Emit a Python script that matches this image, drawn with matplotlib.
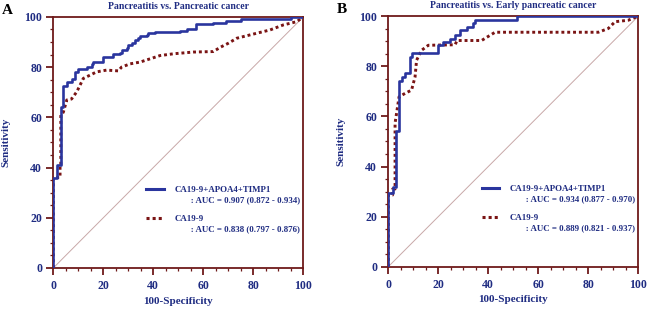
import matplotlib
matplotlib.use('Agg')
import matplotlib.pyplot as plt
from matplotlib.lines import Line2D
from matplotlib.ticker import MultipleLocator

plt.rcParams['font.family'] = ['Liberation Serif', 'DejaVu Serif']
plt.rcParams['font.weight'] = 'bold'

# Panel A: pancreatitis vs. pancreatic cancer
a_combo_x = [0, 0, 1.5, 3, 4, 5.3, 7.3, 8.7, 10, 12, 13.3, 15.3, 16, 20, 24, 26.7, 27.3,
             29.3, 30, 31.3, 32.7, 34, 34.7, 37.3, 38, 40.7, 50.7, 53.3, 57, 64, 69, 75,
             95, 100]
a_combo_y = [0, 36, 41, 64, 72.5, 74.2, 75.2, 78.2, 79.2, 79.4, 80.2, 81.1, 82, 84.2,
             85.1, 85.5, 86.9, 87.6, 88.9, 89.6, 90.9, 91.5, 92.2, 92.8, 93.5, 93.8,
             94.5, 95.3, 97, 97.5, 98.5, 99, 100, 100]
a_ca199_x = [0, 0, 2.7, 2.7, 3, 3, 4, 5.4, 7.3, 9.4, 10.7, 12, 14.7, 17.3, 21.3, 26, 27.3,
             30.7, 34.7, 38.7, 42.7, 48, 56, 64, 67, 70, 73.4, 81.4, 86.7, 92, 97.4, 100]
a_ca199_y = [0, 36, 36, 41, 41, 61, 62, 66.9, 67.3, 70.2, 72.8, 75.5, 76.8, 78.1, 78.8,
             78.5, 80, 81.3, 82, 83.3, 84.6, 85.3, 86, 86.2, 88, 89.5, 91.5, 93.5, 94.8,
             96.8, 98.1, 100]

# Panel B: pancreatitis vs. early pancreatic cancer
b_combo_x = [0, 0, 1.7, 3.1, 4.3, 5.3, 6.7, 8.7, 9.3, 20, 22, 24.7, 26.7, 28.7, 31.3, 34,
             34.7, 51.3, 100]
b_combo_y = [0, 29.3, 32, 54, 74.2, 75.8, 77.4, 83.8, 85.4, 88.4, 89.8, 91.1, 92.4, 94.4,
             95.7, 97.1, 98.4, 100, 100]
b_ca199_x = [0, 0, 1.7, 1.7, 2.7, 2.7, 4.3, 6.7, 9.3, 10.7, 11.3, 13.3, 16, 26.7, 27.5,
             37.3, 42.7, 84, 88, 90.7, 96, 100]
b_ca199_y = [0, 28.6, 28.6, 31, 31, 57.3, 67.8, 69.2, 70.5, 75.8, 82.4, 86.4, 88.4, 88.6,
             90.3, 90.3, 93.6, 93.6, 95.1, 97.8, 98.4, 100]

titles = ['Pancreatitis vs. Pancreatic cancer', 'Pancreatitis vs. Early pancreatic cancer']
letters = ['A', 'B']
combo_name = 'CA19-9+APOA4+TIMP1'
ca199_name = 'CA19-9'
combo_auc = [': AUC = 0.907 (0.872 - 0.934)', ': AUC = 0.934 (0.877 - 0.970)']
ca199_auc = [': AUC = 0.838 (0.797 - 0.876)', ': AUC = 0.889 (0.821 - 0.937)']

navy = '#1f2c82'
blue = '#2a359e'
maroon = '#6e1a1a'
dotred = '#7a1414'
diag = '#c8a8a8'


def draw_panel(ax, combo_x, combo_y, ca199_x, ca199_y, i):
    ax.plot([0, 100], [0, 100], color=diag, lw=0.7, zorder=1)
    ax.plot(ca199_x, ca199_y, color=dotred, lw=2.1, linestyle=(0, (1, 1)),
            dash_capstyle='butt', zorder=2)
    ax.plot(combo_x, combo_y, color=blue, lw=1.9, drawstyle='steps-post', zorder=3)
    ax.set_xlim(0, 100)
    ax.set_ylim(0, 100)
    ax.xaxis.set_major_locator(MultipleLocator(20))
    ax.yaxis.set_major_locator(MultipleLocator(20))
    ax.xaxis.set_minor_locator(MultipleLocator(5))
    ax.yaxis.set_minor_locator(MultipleLocator(5))
    ax.tick_params(which='major', direction='out', length=5, width=1.3, color=maroon,
                   labelcolor=navy, labelsize=8.5, pad=3)
    ax.tick_params(axis='x', which='major', pad=4)
    ax.tick_params(which='minor', direction='out', length=2.5, width=0.9, color=maroon)
    for s in ax.spines.values():
        s.set_color(maroon)
        s.set_linewidth(1.3)
    ax.set_xlabel('100-Specificity', color=navy, fontsize=8, fontweight='bold')
    ax.set_ylabel('Sensitivity', color=navy, fontsize=8, fontweight='bold')
    ax.xaxis.set_label_coords(0.5, -0.115)
    ax.yaxis.set_label_coords(-0.172, 0.5)
    ax.set_title(titles[i], color=navy, fontsize=7, fontweight='bold', pad=6)
    ax.text(-0.205, 1.0, letters[i], transform=ax.transAxes, fontsize=11,
            fontweight='bold', color='black', va='bottom', ha='left')

    # legend, two entries with an indented AUC line under each
    blank = Line2D([], [], linestyle='none')
    h1 = Line2D([], [], color=blue, lw=2.2)
    h2 = Line2D([], [], color=dotred, lw=2.2, linestyle=(0, (1, 1)))
    pad = '       '
    leg1 = ax.legend([h1, blank], [combo_name, pad + combo_auc[i]], loc='upper left',
                     bbox_to_anchor=(0.355, 0.345), frameon=False, fontsize=6.4,
                     handlelength=2.0, handletextpad=1.2, labelspacing=0.2,
                     labelcolor=navy, borderpad=0)
    ax.add_artist(leg1)
    ax.legend([h2, blank], [ca199_name, pad + ca199_auc[i]], loc='upper left',
              bbox_to_anchor=(0.355, 0.228), frameon=False, fontsize=6.4,
              handlelength=2.0, handletextpad=1.2, labelspacing=0.2,
              labelcolor=navy, borderpad=0)


fig = plt.figure(figsize=(6.5, 3.1), dpi=100)
ax1 = fig.add_axes([0.082, 0.1355, 0.3846, 0.81])
ax2 = fig.add_axes([0.5974, 0.1397, 0.3846, 0.808])
draw_panel(ax1, a_combo_x, a_combo_y, a_ca199_x, a_ca199_y, 0)
draw_panel(ax2, b_combo_x, b_combo_y, b_ca199_x, b_ca199_y, 1)

plt.savefig('out.png', dpi=100)
